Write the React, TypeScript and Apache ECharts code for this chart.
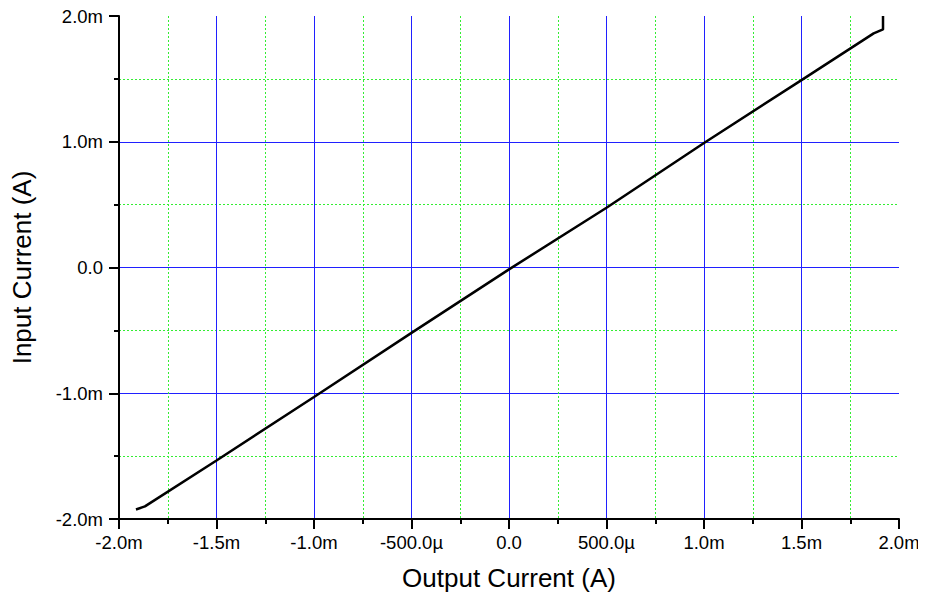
import React, { useEffect, useRef } from "react";
import * as echarts from "echarts";

// values in mA
const outputCurrent = [-1.913, -1.867, -1.5, -1.0, -0.5, 0.0, 0.5, 1.0, 1.5, 1.87, 1.918, 1.918];
const inputCurrent = [-1.924, -1.9, -1.535, -1.03, -0.52, -0.015, 0.475, 0.99, 1.49, 1.862, 1.893, 2.0];
const xTitle = "Output Current (A)";
const yTitle = "Input Current (A)";

const fmt = (v: number) => {
  const r = Math.round(v * 1000) / 1000;
  if (r === 0) return "0.0";
  if (Math.abs(r) < 1) return (r * 1000).toFixed(1) + "µ";
  return r.toFixed(1) + "m";
};

export default function App() {
  const ref = useRef<HTMLDivElement>(null);
  useEffect(() => {
    if (!ref.current) return;
    const chart = echarts.init(ref.current, null, { renderer: "svg" });
    const font = "'Liberation Sans', Arial, sans-serif";
    const common = {
      axisLine: { show: true, onZero: false, lineStyle: { color: "#000", width: 2 } },
      axisTick: { show: true, inside: false, length: 10, lineStyle: { color: "#000", width: 2 } },
      minorTick: { show: true, splitNumber: 2, length: 5, lineStyle: { color: "#000", width: 2 } },
      splitLine: { show: true, showMinLine: false, showMaxLine: false, lineStyle: { color: "#2020ff", width: 1 } },
      minorSplitLine: { show: true, lineStyle: { color: "#33ee33", width: 1, type: [2, 2] } },
      nameLocation: "middle",
      nameTextStyle: { fontFamily: font, fontSize: 26, color: "#000" },
    };
    chart.setOption({
      animation: false,
      grid: { left: 119, right: 27, top: 16, bottom: 81, containLabel: false },
      xAxis: {
        type: "value",
        min: -2,
        max: 2,
        interval: 0.5,
        ...common,
        name: xTitle,
        nameGap: 46,
        axisLabel: { formatter: fmt, fontFamily: font, fontSize: 18.5, color: "#000", margin: 14, showMaxLabel: true, showMinLabel: true },
      },
      yAxis: {
        type: "value",
        min: -2,
        max: 2,
        interval: 1,
        ...common,
        name: yTitle,
        nameGap: 84,
        axisLabel: { formatter: fmt, fontFamily: font, fontSize: 18.5, color: "#000", margin: 16 },
      },
      series: [
        {
          type: "line",
          data: outputCurrent.map((x, i) => [x, inputCurrent[i]]),
          showSymbol: false,
          lineStyle: { color: "#000", width: 2.5 },
          clip: false,
        },
      ],
    });
    return () => chart.dispose();
  }, []);
  return <div ref={ref} style={{ width: 926, height: 600, margin: -8 }} />;
}
